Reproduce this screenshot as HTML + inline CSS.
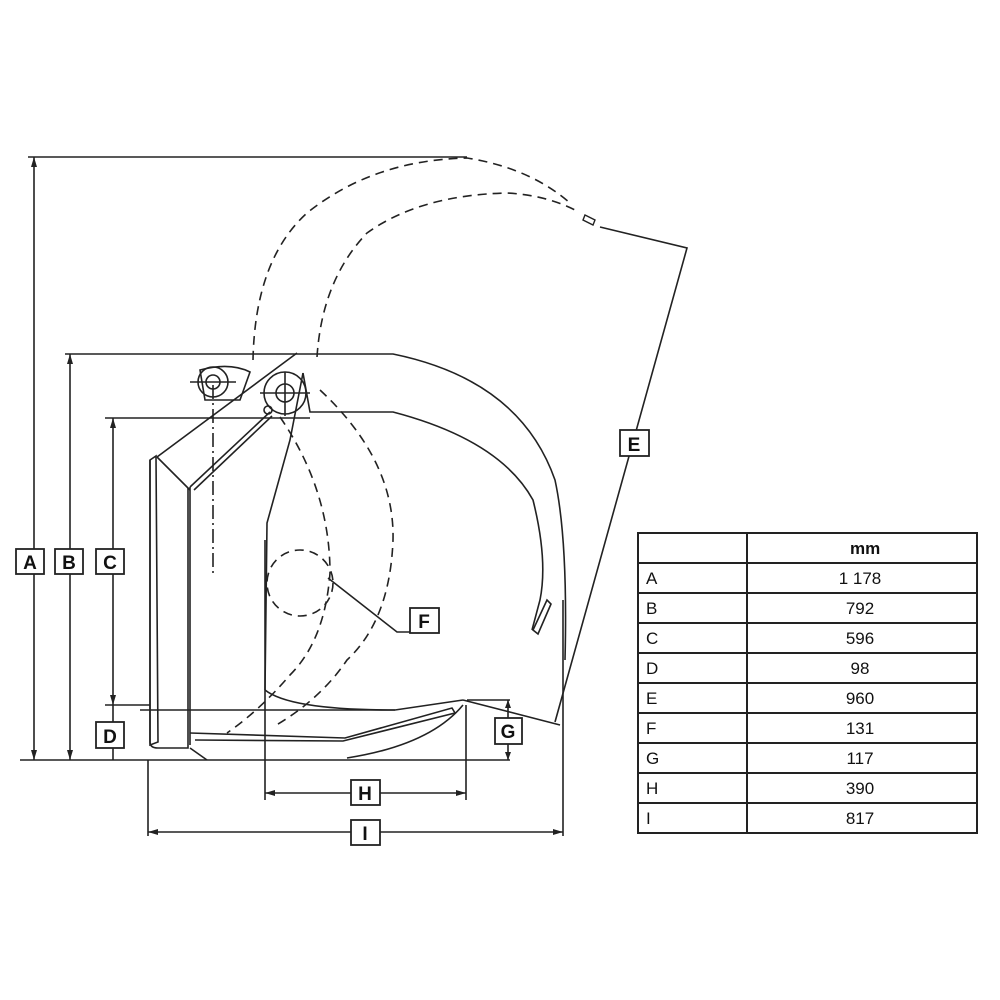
<!DOCTYPE html>
<html><head><meta charset="utf-8"><style>
html,body{margin:0;padding:0;background:#fff}
svg{display:block}
text{font-family:"Liberation Sans",sans-serif;fill:#111}
</style></head><body>
<svg width="1000" height="1000" viewBox="0 0 1000 1000" xmlns="http://www.w3.org/2000/svg">
<g stroke="#222" stroke-width="1.6" fill="none">
<!-- dimension extension lines -->
<line x1="28" y1="157" x2="467" y2="157"/>
<line x1="65" y1="354" x2="300" y2="354"/>
<line x1="105" y1="418" x2="310" y2="418"/>
<line x1="105" y1="705" x2="150" y2="705"/>
<line x1="20" y1="760" x2="510" y2="760"/>
<line x1="140" y1="710" x2="395" y2="710"/>
<!-- verticals -->
<line x1="34" y1="157" x2="34" y2="760"/>
<line x1="70" y1="354" x2="70" y2="760"/>
<line x1="113" y1="418" x2="113" y2="705"/>
<line x1="113" y1="705" x2="113" y2="760"/>
<line x1="508" y1="700" x2="508" y2="760"/>
<line x1="467" y1="700" x2="510" y2="700"/>
<!-- H -->
<line x1="265" y1="540" x2="265" y2="800"/>
<line x1="466" y1="705" x2="466" y2="800"/>
<line x1="265" y1="793" x2="466" y2="793"/>
<!-- I -->
<line x1="148" y1="760" x2="148" y2="836"/>
<line x1="563" y1="600" x2="563" y2="836"/>
<line x1="148" y1="832" x2="563" y2="832"/>
<!-- E -->
<polyline points="600,227 687,248 555,722"/>
<!-- back plate -->
<path d="M150,460 L156,456 L158,742 L150,745 Z"/>
<path d="M150,460 L150,742 Q150,748 158,748 L188,748 L188,488"/>
<line x1="190" y1="487" x2="190" y2="745"/>
<line x1="157" y1="457" x2="297" y2="353"/>
<line x1="157" y1="457" x2="190" y2="490"/>
<line x1="190" y1="487" x2="270" y2="412"/>
<line x1="194" y1="490" x2="272" y2="416"/>
<line x1="213" y1="385" x2="213" y2="575" stroke-dasharray="14 4 2 4"/>
<!-- pivots -->
<circle cx="213" cy="382" r="15"/>
<circle cx="213" cy="382" r="7"/>
<line x1="190" y1="382" x2="236" y2="382"/>
<path d="M200,370 Q230,362 250,372 L240,400 L205,400 Z"/>
<circle cx="285" cy="393" r="21"/>
<circle cx="285" cy="393" r="9"/>
<line x1="260" y1="393" x2="310" y2="393"/>
<line x1="285" y1="372" x2="285" y2="416"/>
<circle cx="268" cy="410" r="4"/>
<!-- bottom tine -->
<path d="M190,733 L345,738 L452,708 L455,713 L343,741 L195,740"/>
<path d="M265,690 Q290,710 395,710 L463,700"/>
<path d="M347,758 Q430,745 463,705"/>
<path d="M190,748 L207,760"/>
<line x1="463" y1="700" x2="560" y2="725"/>
<!-- closed tine -->
<path d="M303,373 L290,440 L267,523 L265,690"/>
<path d="M300,354 L393,354 Q520,380 555,480 Q568,540 565,660"/>
<path d="M303,373 L310,412 L393,412 Q500,440 533,500 Q548,560 540,600 L532,630"/>
<path d="M547,600 L533,630 L538,634 L551,604 Z"/>
<!-- F leader -->
<polyline points="328,578 397,632 410,632"/>
</g>
<!-- dashed open grapple -->
<g stroke="#222" stroke-width="1.6" fill="none" stroke-dasharray="9 6">
<path d="M253,360 Q255,260 307,213 Q373,160 467,158 Q530,168 570,203"/>
<path d="M317,357 Q322,280 367,233 Q420,195 507,193 Q545,195 575,210"/>
<path d="M320,390 Q395,460 393,540 Q390,620 347,660 Q320,700 273,727"/>
<path d="M280,417 Q330,490 330,573 Q325,640 290,675 Q260,710 227,733"/>
<circle cx="300" cy="583" r="33"/>
</g>
<path d="M585,215 L595,220 L593,225 L583,220 Z" fill="none" stroke="#222" stroke-width="1.4"/>
<!-- arrows -->
<g fill="#222">
<polygon points="34,157 31,167 37,167"/><polygon points="34,760 31,750 37,750"/>
<polygon points="70,354 67,364 73,364"/><polygon points="70,760 67,750 73,750"/>
<polygon points="113,418 110,428 116,428"/><polygon points="113,705 110,695 116,695"/>
<polygon points="508,700 505,708 511,708"/><polygon points="508,760 505,752 511,752"/>
<polygon points="265,793 275,790 275,796"/><polygon points="466,793 456,790 456,796"/>
<polygon points="148,832 158,829 158,835"/><polygon points="563,832 553,829 553,835"/>
</g>
<!-- label boxes -->
<g stroke="#222" stroke-width="1.8" fill="#fff">
<rect x="16" y="549" width="28" height="25"/>
<rect x="55" y="549" width="28" height="25"/>
<rect x="96" y="549" width="28" height="25"/>
<rect x="96" y="722" width="28" height="26"/>
<rect x="495" y="718" width="27" height="26"/>
<rect x="351" y="780" width="29" height="25"/>
<rect x="351" y="820" width="29" height="25"/>
<rect x="620" y="430" width="29" height="26"/>
<rect x="410" y="608" width="29" height="25"/>
</g>
<g font-size="19" font-weight="bold" text-anchor="middle">
<text x="30" y="569">A</text><text x="69" y="569">B</text><text x="110" y="569">C</text>
<text x="110" y="743">D</text><text x="508" y="738">G</text><text x="365" y="800">H</text>
<text x="365" y="840">I</text><text x="634" y="451">E</text><text x="424" y="628">F</text>
</g>
<!-- table -->
<g stroke="#222" stroke-width="2" fill="none">
<rect x="638" y="533" width="339" height="300"/>
<line x1="747" y1="533" x2="747" y2="833"/>
<line x1="638" y1="563" x2="977" y2="563"/>
<line x1="638" y1="593" x2="977" y2="593"/>
<line x1="638" y1="623" x2="977" y2="623"/>
<line x1="638" y1="653" x2="977" y2="653"/>
<line x1="638" y1="683" x2="977" y2="683"/>
<line x1="638" y1="713" x2="977" y2="713"/>
<line x1="638" y1="743" x2="977" y2="743"/>
<line x1="638" y1="773" x2="977" y2="773"/>
<line x1="638" y1="803" x2="977" y2="803"/>
</g>
<g font-size="17">
<text x="850" y="554" font-weight="bold">mm</text>
<text x="646" y="584">A</text><text x="646" y="614">B</text><text x="646" y="644">C</text>
<text x="646" y="674">D</text><text x="646" y="704">E</text><text x="646" y="734">F</text>
<text x="646" y="764">G</text><text x="646" y="794">H</text><text x="646" y="824">I</text>
</g>
<g font-size="17" text-anchor="middle">
<text x="860" y="584">1 178</text><text x="860" y="614">792</text><text x="860" y="644">596</text>
<text x="860" y="674">98</text><text x="860" y="704">960</text><text x="860" y="734">131</text>
<text x="860" y="764">117</text><text x="860" y="794">390</text><text x="860" y="824">817</text>
</g>
</svg>
</body></html>
